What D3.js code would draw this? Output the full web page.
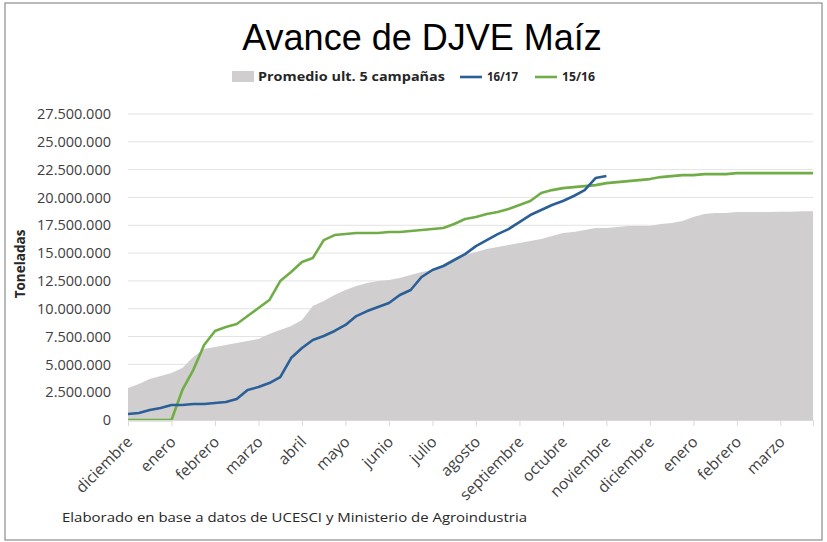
<!DOCTYPE html>
<html>
<head>
<meta charset="utf-8">
<script src="https://cdn.jsdelivr.net/npm/d3@7"></script>
<style>
  body { margin: 0; background: #fff; }
  text { font-family: "Open Sans", Lato, sans-serif; }
</style>
</head>
<body>
<svg id="chart" width="827" height="542"></svg>
<script>
// meses del eje (inicio de cada mes)
const meses = ["diciembre", "enero", "febrero", "marzo", "abril", "mayo", "junio", "julio",
  "agosto", "septiembre", "octubre", "noviembre", "diciembre", "enero", "febrero", "marzo"]
// lecturas cada cuarto de mes, en millones de toneladas
const promedio = [2.88, 3.23, 3.68, 3.95, 4.22, 4.67, 5.66, 6.38, 6.56, 6.74, 6.92, 7.10, 7.28, 7.73, 8.09, 8.45,
  8.98, 10.24, 10.69, 11.23, 11.68, 12.04, 12.31, 12.49, 12.58, 12.76, 13.03, 13.30, 13.48, 13.84, 14.38, 14.82,
  15.09, 15.36, 15.54, 15.72, 15.90, 16.08, 16.26, 16.53, 16.80, 16.89, 17.07, 17.25, 17.25, 17.34, 17.43, 17.43,
  17.43, 17.61, 17.70, 17.88, 18.24, 18.51, 18.60, 18.60, 18.69, 18.69, 18.69, 18.69, 18.72, 18.72, 18.75, 18.75]
const c1617 = [0.54, 0.63, 0.90, 1.08, 1.35, 1.35, 1.44, 1.44, 1.53, 1.62, 1.89, 2.70, 2.96, 3.32, 3.86, 5.57,
  6.47, 7.19, 7.55, 8.00, 8.54, 9.34, 9.79, 10.15, 10.51, 11.23, 11.68, 12.85, 13.48, 13.84, 14.38, 14.91,
  15.63, 16.17, 16.71, 17.16, 17.79, 18.42, 18.87, 19.32, 19.68, 20.13, 20.66, 21.74, 21.92]
const c1516 = [0, 0, 0, 0, 0, 2.70, 4.49, 6.74, 8.00, 8.36, 8.63, 9.34, 10.06, 10.78, 12.49, 13.30,
  14.20, 14.56, 16.17, 16.62, 16.71, 16.80, 16.80, 16.80, 16.89, 16.89, 16.98, 17.07, 17.16, 17.25, 17.61, 18.06,
  18.24, 18.51, 18.69, 18.96, 19.32, 19.68, 20.40, 20.66, 20.84, 20.93, 21.02, 21.11, 21.29, 21.38, 21.47, 21.56,
  21.65, 21.83, 21.92, 22.01, 22.01, 22.10, 22.10, 22.10, 22.19, 22.19, 22.19, 22.19, 22.19, 22.19, 22.19, 22.19]
const yTicks = [0, 2500000, 5000000, 7500000, 10000000, 12500000, 15000000, 17500000,
  20000000, 22500000, 25000000, 27500000]

var svg = d3.select("#chart")
var plotLeft = 128, plotRight = 813, plotTop = 114, plotBottom = 420

var locale = d3.formatLocale({decimal: ",", thousands: ".", grouping: [3], currency: ["$", ""]})
var fmt = locale.format(",d")

var x = d3.scaleLinear().domain([0, 15.75]).range([plotLeft, plotRight])
var y = d3.scaleLinear().domain([0, 27500000]).range([plotBottom, plotTop])

function toPoints(arr) {
  return arr.map(function(v, i) { return {m: i / 4, v: v * 1e6}; })
}

// marco
svg.append("rect")
  .attr("x", 5).attr("y", 3).attr("width", 817).attr("height", 537)
  .attr("fill", "none").attr("stroke", "#8c8c8c").attr("stroke-width", 1.2)

svg.append("text")
  .attr("x", 422).attr("y", 50)
  .attr("text-anchor", "middle")
  .style("font-family", "'Liberation Sans', Arial, sans-serif")
  .style("font-size", "36px")
  .attr("fill", "#000")
  .text("Avance de DJVE Maíz")

// grilla
svg.append("g")
  .selectAll("line")
  .data(yTicks.slice(1))
  .join("line")
  .attr("x1", plotLeft).attr("x2", plotRight)
  .attr("y1", function(d) { return y(d); })
  .attr("y2", function(d) { return y(d); })
  .attr("stroke", "#e3e3e3").attr("stroke-width", 1)

var area = d3.area()
  .x(function(d) { return x(d.m); })
  .y0(y(0))
  .y1(function(d) { return y(d.v); })

svg.append("path")
  .datum(toPoints(promedio))
  .attr("d", area)
  .attr("fill", "#d0cece")

var line = d3.line()
  .x(function(d) { return x(d.m); })
  .y(function(d) { return y(d.v); })

svg.append("path")
  .datum(toPoints(c1516))
  .attr("d", line)
  .attr("fill", "none")
  .attr("stroke", "#70ad47")
  .attr("stroke-width", 2.6)
  .attr("stroke-linejoin", "round")

svg.append("path")
  .datum(toPoints(c1617))
  .attr("d", line)
  .attr("fill", "none")
  .attr("stroke", "#2b5f97")
  .attr("stroke-width", 2.6)
  .attr("stroke-linejoin", "round")

// eje y
var yAxis = svg.append("g")
  .attr("transform", "translate(" + (plotLeft - 17) + ",0)")
  .call(d3.axisLeft(y).tickValues(yTicks).tickFormat(fmt).tickSize(0).tickPadding(0))
yAxis.select(".domain").remove()
yAxis.selectAll("text")
  .style("font-size", "14.5px")
  .style("font-family", "'Open Sans', sans-serif")
  .attr("fill", "#404040")

svg.append("text")
  .attr("transform", "translate(25,264) rotate(-90)")
  .attr("text-anchor", "middle")
  .style("font-size", "13.5px")
  .style("font-weight", "bold")
  .attr("fill", "#262626")
  .text("Toneladas")

// eje x
var xAxis = svg.append("g")
  .attr("transform", "translate(0," + plotBottom + ")")
  .call(d3.axisBottom(x).tickValues(d3.range(meses.length)).tickSize(6).tickFormat(function(d) { return meses[d]; }))
xAxis.select(".domain").attr("stroke", "#d9d9d9")
xAxis.selectAll(".tick line").attr("stroke", "#d9d9d9")
xAxis.selectAll("text")
  .style("font-size", "15.5px")
  .style("font-family", "'Open Sans', sans-serif")
  .attr("fill", "#404040")
  .attr("text-anchor", "end")
  .attr("y", 0)
  .attr("dy", "0.35em")
  .attr("transform", "translate(1,19) rotate(-45)")

// leyenda
var leg = svg.append("g").style("font-size", "12.5px").style("font-weight", "bold").attr("fill", "#262626")
leg.append("rect").attr("x", 232).attr("y", 71).attr("width", 22).attr("height", 11).attr("fill", "#d0cece")
leg.append("text").attr("x", 258).attr("y", 81).attr("textLength", 187).attr("lengthAdjust", "spacingAndGlyphs")
  .text("Promedio ult. 5 campañas")
leg.append("line").attr("x1", 460).attr("x2", 482).attr("y1", 77).attr("y2", 77)
  .attr("stroke", "#2b5f97").attr("stroke-width", 2.6)
leg.append("text").attr("x", 487).attr("y", 81).attr("textLength", 31).attr("lengthAdjust", "spacingAndGlyphs")
  .text("16/17")
leg.append("line").attr("x1", 535).attr("x2", 557).attr("y1", 77).attr("y2", 77)
  .attr("stroke", "#70ad47").attr("stroke-width", 2.6)
leg.append("text").attr("x", 562).attr("y", 81).attr("textLength", 33).attr("lengthAdjust", "spacingAndGlyphs")
  .text("15/16")

svg.append("text")
  .attr("x", 62).attr("y", 522)
  .style("font-size", "13.5px")
  .attr("fill", "#262626")
  .attr("textLength", 465).attr("lengthAdjust", "spacingAndGlyphs")
  .text("Elaborado en base a datos de UCESCI y Ministerio de Agroindustria")
</script>
</body>
</html>
